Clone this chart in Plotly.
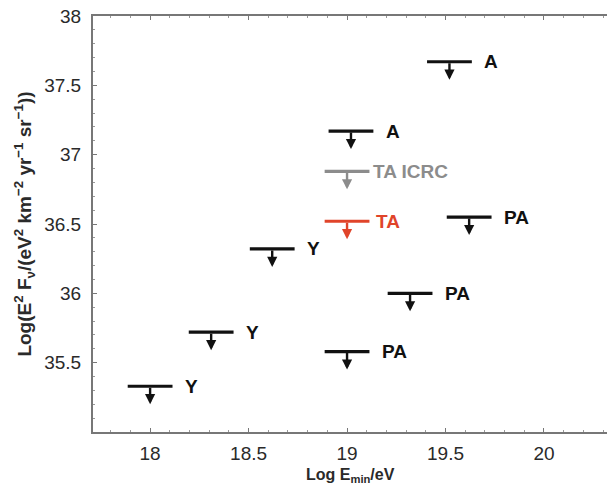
import plotly.graph_objects as go

# Upper-limit data (log10 energy, log10 E^2 F)
black_x = [18.0, 18.31, 18.62, 19.0, 19.32, 19.62, 19.02, 19.52]
black_y = [35.33, 35.72, 36.32, 35.58, 36.0, 36.55, 37.17, 37.67]
black_labels = ["Y", "Y", "Y", "PA", "PA", "PA", "A", "A"]

icrc_x = [19.0]
icrc_y = [36.88]
icrc_labels = ["TA ICRC"]

ta_x = [19.0]
ta_y = [36.52]
ta_labels = ["TA"]

x_ticks = [18, 18.5, 19, 19.5, 20]
y_ticks = [35.5, 36, 36.5, 37, 37.5, 38]

ARROW_LEN = 0.13
series = [
    (black_x, black_y, black_labels, "#111111", 14),
    (icrc_x, icrc_y, icrc_labels, "#8c8c8c", 5),
    (ta_x, ta_y, ta_labels, "#e0442a", 8),
]

fig = go.Figure()
annotations = []
for xs, ys, labels, color, gap in series:
    fig.add_trace(go.Scatter(
        x=xs, y=ys, mode="markers",
        marker=dict(symbol="line-ew", size=32, line=dict(width=3.2, color=color)),
        showlegend=False, hoverinfo="skip",
    ))
    for xi, yi, lab in zip(xs, ys, labels):
        annotations.append(dict(
            x=xi, y=yi - ARROW_LEN, ax=xi, ay=yi, xref="x", yref="y",
            axref="x", ayref="y", showarrow=True, arrowhead=2, arrowsize=0.85,
            arrowwidth=2.4, arrowcolor=color, text="",
        ))
        annotations.append(dict(
            x=xi, y=yi, xref="x", yref="y", text=f"<b>{lab}</b>", showarrow=False,
            xanchor="left", yanchor="middle", xshift=19 + gap,
            font=dict(family="Liberation Sans, Arial", size=19, color=color),
        ))

# x-axis title placed just below the tick labels
annotations.append(dict(
    x=0.5, y=0, xref="paper", yref="paper", xanchor="center", yanchor="top",
    yshift=-32, showarrow=False, text="<b>Log E<sub>min</sub>/eV</b>",
    font=dict(family="Liberation Sans, Arial", size=16, color="#2a2a2a"),
))

axis_common = dict(
    showgrid=False, zeroline=False, showline=True, linecolor="#777777", linewidth=2,
    ticks="inside", ticklen=4, tickcolor="#777777",
    tickfont=dict(family="Liberation Sans, Arial", size=19, color="#2a2a2a"),
)

fig.update_layout(
    width=607, height=488,
    margin=dict(l=93, r=0, t=16, b=56),
    paper_bgcolor="white", plot_bgcolor="white",
    annotations=annotations,
    xaxis=dict(range=[17.71, 20.32], tickvals=x_ticks, ticktext=[str(v) for v in x_ticks],
               mirror="ticks", ticklabelstandoff=3, automargin=False,
               minor=dict(dtick=0.1, tick0=18, ticks="inside", ticklen=2, tickcolor="#999999"),
               **axis_common),
    yaxis=dict(range=[35.0, 38.0], tickvals=y_ticks, ticktext=[str(v) for v in y_ticks],
               mirror=False, ticklabelstandoff=6,
               minor=dict(dtick=0.1, tick0=35, ticks="inside", ticklen=2, tickcolor="#999999"),
               title=dict(text="<b>Log(E<sup>2</sup> F<sub>ν</sub>/(eV<sup>2</sup> km<sup>−2</sup> yr<sup>−1</sup> sr<sup>−1</sup>))</b>",
                          standoff=8,
                          font=dict(family="Liberation Sans, Arial", size=19, color="#2a2a2a")),
               **axis_common),
)

fig.write_html("out.html")
